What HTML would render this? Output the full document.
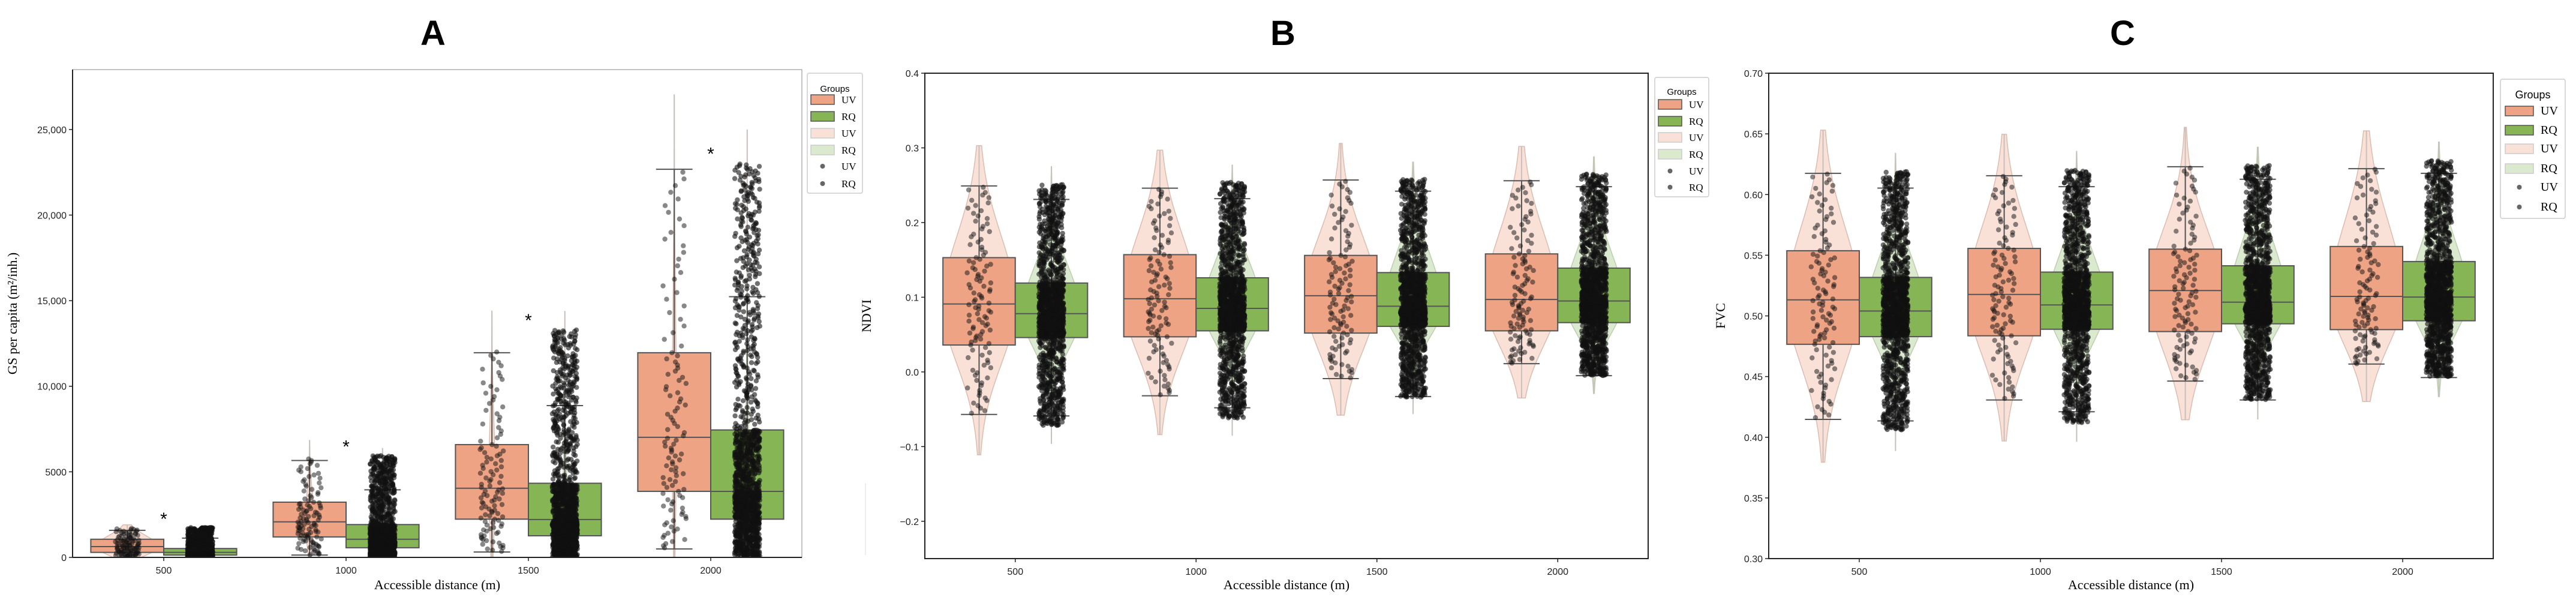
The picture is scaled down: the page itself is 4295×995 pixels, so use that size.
<!DOCTYPE html>
<html><head><meta charset="utf-8"><style>
html,body{margin:0;padding:0;background:#fff;}
svg{display:block;}
text{font-family:"Liberation Sans",sans-serif;}
</style></head><body>
<svg id="fig" width="4295" height="995" viewBox="0 0 4295 995" xmlns="http://www.w3.org/2000/svg"></svg>
<script>
// ---- shared data ----
const categories = ["500","1000","1500","2000"];
// [whiskerLow, q1, median, q3, whiskerHigh, violinMin, violinMax]
const aUV = [[0,293,632,1060,1580,0,1900],[135,1196,2076,3227,5663,0,6837],[316,2234,4039,6589,11958,0,14395],[496,3858,7017,11958,22675,0,27030]];
const aRQ = [[0,135,293,519,1128,0,1750],[0,564,1060,1918,3949,0,6386],[0,1264,2211,4332,8867,0,14395],[0,2234,3858,7446,15230,0,25000]];
const aUVPts = [[0,1700],[135,5800],[316,12100],[496,22700]];
const aRQPts = [[0,1750],[0,5950],[0,13300],[0,23000]];
const aStars = [2392,6611,13989,23714];
const aYTicks = [0,5000,10000,15000,20000,25000];
const aYTickLabels = ["0","5000","10,000","15,000","20,000","25,000"];
const bUV = [[-0.057,0.036,0.091,0.153,0.249,-0.111,0.303],[-0.032,0.047,0.098,0.157,0.246,-0.084,0.297],[-0.009,0.052,0.102,0.156,0.257,-0.058,0.306],[0.011,0.055,0.097,0.158,0.256,-0.035,0.302]];
const bRQ = [[-0.059,0.046,0.078,0.119,0.231,-0.096,0.275],[-0.048,0.055,0.085,0.126,0.232,-0.085,0.277],[-0.033,0.061,0.088,0.133,0.242,-0.056,0.281],[-0.005,0.066,0.095,0.139,0.248,-0.029,0.288]];
const bUVPts = [[-0.057,0.249],[-0.032,0.246],[-0.009,0.257],[0.011,0.256]];
const bRQPts = [[-0.072,0.251],[-0.062,0.254],[-0.034,0.258],[-0.005,0.265]];
const bYTicks = [-0.2,-0.1,0.0,0.1,0.2,0.3,0.4];
const bYTickLabels = ["\u22120.2","\u22120.1","0.0","0.1","0.2","0.3","0.4"];
const cUV = [[0.4147,0.4766,0.5132,0.5537,0.6175,0.3794,0.6531],[0.4307,0.4836,0.5177,0.5556,0.6155,0.3969,0.6496],[0.4463,0.4871,0.5209,0.555,0.6229,0.4144,0.6554],[0.4603,0.4887,0.5161,0.5572,0.6213,0.4294,0.6525]];
const cRQ = [[0.4135,0.4829,0.504,0.5317,0.6053,0.389,0.634],[0.421,0.489,0.509,0.5361,0.6065,0.3963,0.6356],[0.4307,0.4935,0.5113,0.5413,0.6126,0.415,0.6391],[0.4492,0.496,0.5155,0.5448,0.6175,0.4335,0.6433]];
const cUVPts = [[0.415,0.618],[0.431,0.616],[0.447,0.623],[0.460,0.622]];
const cRQPts = [[0.406,0.619],[0.412,0.620],[0.431,0.624],[0.450,0.628]];
const cYTicks = [0.30,0.35,0.40,0.45,0.50,0.55,0.60,0.65,0.70];
const cYTickLabels = ["0.30","0.35","0.40","0.45","0.50","0.55","0.60","0.65","0.70"];
const aUVViolinW = [0.85,0.12,0.09,0.06];
const aRQViolinW = [0.3,0.09,0.07,0.05];

const NS="http://www.w3.org/2000/svg";
const svg=document.getElementById('fig');
function el(tag,attrs,parent){const e=document.createElementNS(NS,tag);for(const k in attrs)e.setAttribute(k,attrs[k]);(parent||svg).appendChild(e);return e;}
function hash(k){const s=Math.sin(k*12.9898+78.233)*43758.5453;return s-Math.floor(s);}

const panels=[
 {key:'a',title:'A',titleX:722,L:121,R:1337,T:116,B:929,ymin:0,ymax:28500,uv:aUV,rq:aRQ,uvp:aUVPts,rqp:aRQPts,ticks:aYTicks,labels:aYTickLabels,ylabel:'GS per capita (m\u00b2/inh.)',ylx:28,stars:aStars,vwUV:aUVViolinW,vwRQ:aRQViolinW,
  leg:{x:1346,y:122,w:92,h:200,title:147,rows:[166,194,222,250,277,306],px:1352,tx:1403,fs:15},topOpen:true},
 {key:'b',title:'B',titleX:2139,L:1542,R:2748,T:122,B:931,ymin:-0.25,ymax:0.4,uv:bUV,rq:bRQ,uvp:bUVPts,rqp:bRQPts,ticks:bYTicks,labels:bYTickLabels,ylabel:'NDVI',ylx:1452,vwUV:[1,1,1,1],vwRQ:[0.8,0.8,0.8,0.8],
  leg:{x:2759,y:129,w:90,h:199,title:152,rows:[174,202,229,257,285,312],px:2765,tx:2816,fs:15}},
 {key:'c',title:'C',titleX:3539,L:2949,R:4157,T:122,B:931,ymin:0.30,ymax:0.70,uv:cUV,rq:cRQ,uvp:cUVPts,rqp:cRQPts,ticks:cYTicks,labels:cYTickLabels,ylabel:'FVC',ylx:2876,vwUV:[1,1,1,1],vwRQ:[0.8,0.8,0.8,0.8],
  leg:{x:4169,y:132,w:108,h:232,title:158,rows:[185,217,248,281,312,345],px:4177,tx:4236,fs:18}}
];

function quant(k,p){const pos=p*4;const i=Math.min(3,Math.floor(pos));const f=pos-i;return k[i]+(k[i+1]-k[i])*f;}

panels.forEach(P=>{
 const g=el('g',{});  
 const sp=(P.R-P.L)/4;
 const x0=P.L+sp/2;
 const xScale=i=>x0+i*sp;
 const yScale=v=>P.B-(v-P.ymin)/(P.ymax-P.ymin)*(P.B-P.T);
 const t=el('text',{x:P.titleX,y:75,'font-size':58,'font-weight':'bold','text-anchor':'middle'},g);t.textContent=P.title;
 
 const clip=el('clipPath',{id:'clip'+P.key},g);el('rect',{x:P.L,y:P.T,width:P.R-P.L,height:P.B-P.T},clip);
 const plot=el('g',{'clip-path':'url(#clip'+P.key+')'},g);
 const bw=sp*0.4;
 const series=[{d:P.uv,p:P.uvp,off:-0.2,fill:'#eea384',vfill:'#f9e1d8',vstroke:'#dcbcb0',vw:P.vwUV,n:110,nm:'uv',jit:20,op:0.5},
               {d:P.rq,p:P.rqp,off:0.2,fill:'#86b556',vfill:'#dbeacf',vstroke:'#bccdb0',vw:P.vwRQ,n:1400,nm:'rq',jit:21,op:0.6}];
 series.forEach(S=>S.d.forEach((s,i)=>{
  const cx=xScale(i)+S.off*sp;
  const steps=100,vals=[],dens=[];let mx=0;
  const sdL=(s[2]-s[1])/0.674||1, sdH=(s[3]-s[2])/0.674||1;
  for(let k=0;k<=steps;k++){const v=s[5]+(s[6]-s[5])*k/steps;const sd=v<s[2]?sdL:sdH;const z=(v-s[2])/sd;const d=Math.exp(-0.5*z*z);vals.push(v);dens.push(d);mx=Math.max(mx,d);}
  const hw=bw/2*S.vw[i];
  let pts=[];for(let k=0;k<=steps;k++)pts.push([cx+dens[k]/mx*hw,yScale(vals[k])]);
  for(let k=steps;k>=0;k--)pts.push([cx-dens[k]/mx*hw,yScale(vals[k])]);
  const p=el('path',{d:'M'+pts.map(q=>q[0].toFixed(1)+','+q[1].toFixed(1)).join('L')+'Z',fill:S.vfill,stroke:S.vstroke,'stroke-width':1.5},plot);
  
  el('line',{x1:cx,x2:cx,y1:yScale(s[5]),y2:yScale(s[6]),stroke:'#c8c0bc','stroke-width':2},plot);
 }));
 series.forEach(S=>S.d.forEach((s,i)=>{
  const c=xScale(i)+S.off*sp;const bx=xScale(i)+(S.off<0?-bw:0);
  el('line',{x1:c,x2:c,y1:yScale(s[0]),y2:yScale(s[4]),stroke:'#555','stroke-width':2},plot);
  const capw=sp*0.1;
  el('line',{x1:c-capw,x2:c+capw,y1:yScale(s[0]),y2:yScale(s[0]),stroke:'#555','stroke-width':2},plot);
  el('line',{x1:c-capw,x2:c+capw,y1:yScale(s[4]),y2:yScale(s[4]),stroke:'#555','stroke-width':2},plot);
  const r=el('rect',{x:bx,y:yScale(s[3]),width:bw,height:Math.max(1,yScale(s[1])-yScale(s[3])),fill:S.fill,stroke:'#555','stroke-width':2},plot);
  
  el('line',{x1:bx,x2:bx+bw,y1:yScale(s[2]),y2:yScale(s[2]),stroke:'#555','stroke-width':2},plot);
 }));
 series.forEach(S=>S.d.forEach((s,i)=>{
  const c=xScale(i)+S.off*sp;
  const ks=[S.p[i][0],s[1],s[2],s[3],S.p[i][1]];
  const pg=el('g',{fill:'#111','fill-opacity':S.op},plot);
  
  for(let k=0;k<S.n;k++){const v=quant(ks,(k+0.5)/S.n);const j=hash(k+i*977+(S.nm==='rq'?5000:0))*2-1;
   el('circle',{cx:(c+j*S.jit).toFixed(1),cy:yScale(v).toFixed(1),r:4.2},pg);}
 }));
 if(P.stars)P.stars.forEach((v,i)=>{const s=el('text',{x:xScale(i),y:yScale(v)+14,'font-size':30,'text-anchor':'middle'},g);s.textContent='*';
  });
 const fr=el('rect',{x:P.L,y:P.T,width:P.R-P.L,height:P.B-P.T,fill:'none',stroke:P.topOpen?'#888':'#222','stroke-width':P.topOpen?1:2},g);
 
 el('line',{x1:P.L,x2:P.L,y1:P.T,y2:P.B,stroke:'#222','stroke-width':2},g);
 el('line',{x1:P.L,x2:P.R,y1:P.B,y2:P.B,stroke:'#222','stroke-width':2},g);
 P.ticks.forEach((v,i)=>{const y=yScale(v);el('line',{x1:P.L-6,x2:P.L,y1:y,y2:y,stroke:'#222','stroke-width':1.5},g);
  const tt=el('text',{x:P.L-10,y:y+6,'font-size':16,'text-anchor':'end',fill:'#222'},g);tt.textContent=P.labels[i];
  });
 categories.forEach((c,i)=>{const x=xScale(i);el('line',{x1:x,x2:x,y1:P.B,y2:P.B+6,stroke:'#222','stroke-width':1.5},g);
  const tt=el('text',{x:x,y:P.B+27,'font-size':16,'text-anchor':'middle',fill:'#222'},g);tt.textContent=c;
  });
 const xl=el('text',{x:(P.L+P.R)/2,y:982,'font-size':22,'text-anchor':'middle',style:'font-family:"Liberation Serif",serif'},g);xl.textContent='Accessible distance (m)';
 
 const yc=(P.T+P.B)/2;
 const yl=el('text',{x:P.ylx,y:yc,'font-size':22,'text-anchor':'middle',transform:'rotate(-90 '+P.ylx+' '+yc+')',style:'font-family:"Liberation Serif",serif'},g);yl.textContent=P.ylabel;
 
 const Lg=P.leg;const lg=el('g',{},g);
 el('rect',{x:Lg.x,y:Lg.y,width:Lg.w,height:Lg.h,fill:'#fff',stroke:'#ccc','stroke-width':1.5,rx:3},lg);
 const lt=el('text',{x:Lg.x+Lg.w/2,y:Lg.title+6,'font-size':Lg.fs,'text-anchor':'middle'},lg);lt.textContent='Groups';
 const entries=[['UV','#eea384','patch'],['RQ','#86b556','patch'],['UV','#f9e1d8','patch'],['RQ','#dbeacf','patch'],['UV','#666','dot'],['RQ','#666','dot']];
 entries.forEach((e,k)=>{const y=Lg.rows[k];const pw=Lg.tx-Lg.px-12;
  const eg=el('g',{},lg);
  if(e[2]==='patch')el('rect',{x:Lg.px,y:y-8,width:pw,height:16,fill:e[1],stroke:k<2?'#555':'#ccc','stroke-width':1.5},eg);
  else el('circle',{cx:Lg.px+pw/2,cy:y,r:4,fill:e[1]},eg);
  const tx=el('text',{x:Lg.tx,y:y+6,'font-size':Lg.fs+2,style:'font-family:"Liberation Serif",serif'},eg);tx.textContent=e[0];});
});
el('line',{x1:1443,x2:1443,y1:805,y2:925,stroke:'#ddd','stroke-width':1});
</script>
</body></html>
